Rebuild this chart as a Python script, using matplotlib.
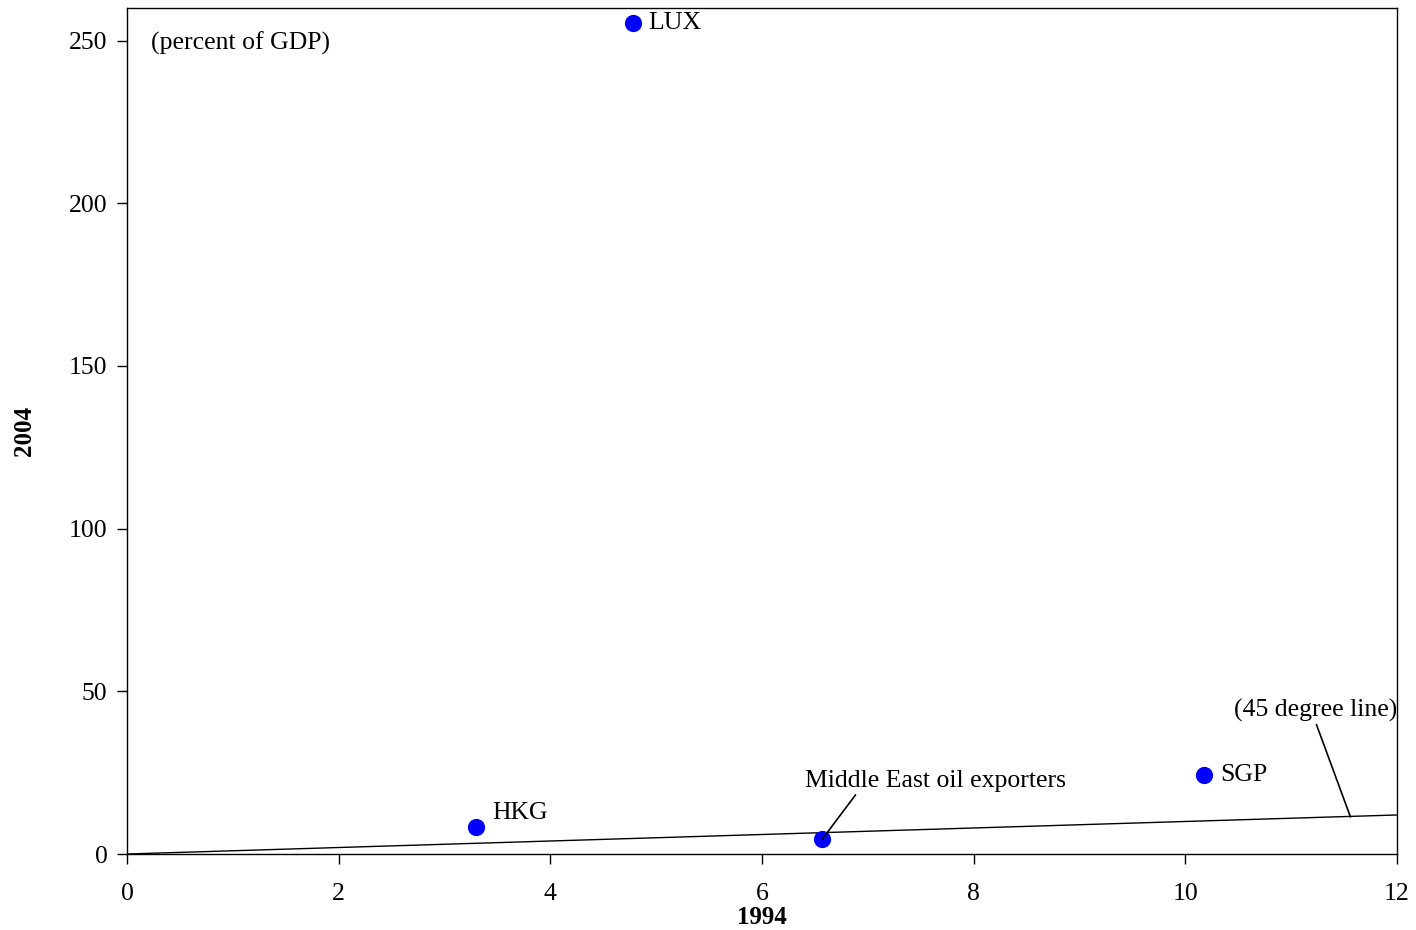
import matplotlib.pyplot as plt

plt.rcParams['font.family'] = ['Liberation Serif', 'DejaVu Serif']

# scatter data (percent of GDP)
labels = ['LUX', 'HKG', 'Middle East oil exporters', 'SGP']
x_1994 = [4.78, 3.30, 6.57, 10.18]
y_2004 = [255.5, 8.3, 4.6, 24.3]

line_x = [0, 12]
line_y = [0, 12]

fig = plt.figure(figsize=(14.16, 9.30), dpi=100)
ax = fig.add_axes([0.0897, 0.0817, 0.8969, 0.9097])

ax.plot(line_x, line_y, color='black', linewidth=1.0)
ax.scatter(x_1994, y_2004, s=130, color='#0000ff', zorder=3)

ax.set_xlim(0, 12)
ax.set_ylim(0, 260)
ax.set_xticks(range(0, 13, 2))
ax.set_yticks(range(0, 251, 50))
ax.tick_params(direction='out', length=7, width=1, labelsize=18.5)
ax.tick_params(axis='x', pad=14)
ax.tick_params(axis='y', pad=7)
for sp in ax.spines.values():
    sp.set_linewidth(1)

ax.set_xlabel('1994', fontsize=18, fontweight='bold')
ax.set_ylabel('2004', fontsize=18, fontweight='bold')
ax.xaxis.set_label_coords(0.5, -0.061)
ax.yaxis.set_label_coords(-0.072, 0.5)

fs = 18.5
ax.text(0.23, 249.3, '(percent of GDP)', fontsize=fs, va='center')
ax.annotate(labels[0], (x_1994[0], y_2004[0]), xytext=(11, 0),
            textcoords='offset points', fontsize=fs, va='center')
ax.annotate(labels[1], (x_1994[1], y_2004[1]), xytext=(11.5, 10),
            textcoords='offset points', fontsize=fs, va='center')
ax.annotate(labels[3], (x_1994[3], y_2004[3]), xytext=(11.5, 0),
            textcoords='offset points', fontsize=fs, va='center')
ax.annotate(labels[2], (x_1994[2], y_2004[2]),
            xytext=(6.41, 22.4), fontsize=fs, va='center',
            arrowprops=dict(arrowstyle='-', color='black', lw=1.2,
                            shrinkA=0, shrinkB=0,
                            relpos=(0.2, 0.0)))
ax.annotate('(45 degree line)', (11.56, 11.4), xytext=(12.0, 44.2),
            fontsize=fs, va='center', ha='right',
            arrowprops=dict(arrowstyle='-', color='black', lw=1.2,
                            shrinkA=0, shrinkB=0,
                            relpos=(0.5, 0.0)))

fig.savefig('out.png', dpi=100)
